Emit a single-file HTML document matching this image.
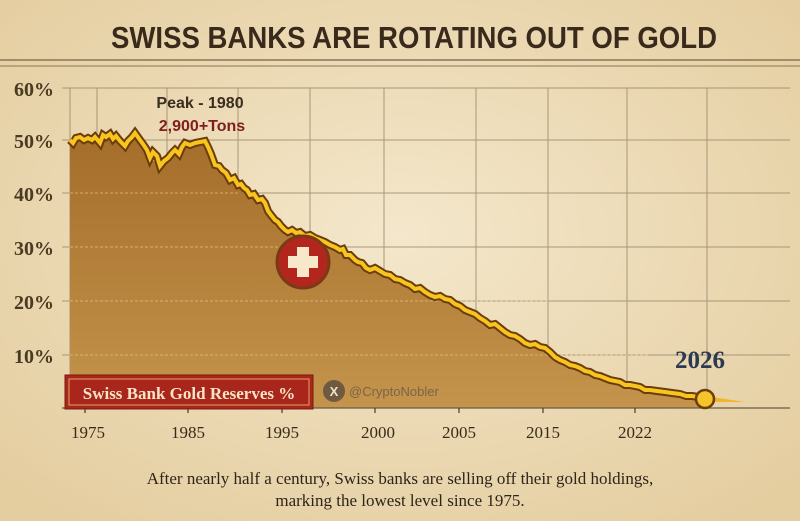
<!DOCTYPE html>
<html><head><meta charset="utf-8"><style>
body{margin:0;width:800px;height:521px;overflow:hidden;background:#efdfbd;}
svg{display:block}
</style></head><body>
<svg width="800" height="521" viewBox="0 0 800 521" xmlns="http://www.w3.org/2000/svg" xmlns:xlink="http://www.w3.org/1999/xlink">
<defs>
<radialGradient id="bg" cx="50%" cy="45%" r="70%"><stop offset="0" stop-color="#f4e7cb"/><stop offset="1" stop-color="#e4cd9f"/></radialGradient>
<linearGradient id="fill" x1="0" y1="0" x2="0" y2="1"><stop offset="0" stop-color="#a46d2a"/><stop offset="1" stop-color="#c4944c"/></linearGradient>
<polyline id="ln" fill="none" points="70,140 73,143 76,138 80,137 84,140 88,138 92,140 95,137 100,143 103,135 106,137 110,134 113,139 116,136 120,141 125,146 128,141 132,137 135,133 140,140 143,144 147,150 150,158 153,152 157,156 160,166 164,161 168,158 172,153 175,150 179,154 182,147 185,143 190,145 195,143 200,142 205,141 208,147 211,154 215,165 219,166 222,170 226,173 230,180 234,178 238,185 241,184 244,188 247,190 250,195 254,194 258,200 262,199 265,203 268,211 271,215 275,220 278,222 281,226 285,230 288,232 292,230 296,233 300,232 305,236 310,235 315,238 320,240 325,242 330,245 335,247 340,250 343,249 346,255 350,255 355,260 358,262 362,263 366,268 370,270 375,268 380,271 385,274 390,275 395,279 400,280 405,283 410,285 415,289 420,288 425,292 430,295 435,297 440,296 445,299 450,300 455,304 460,306 465,310 470,312 475,314 480,318 485,321 490,325 495,324 500,328 505,332 510,335 515,336 520,339 525,343 530,345 535,344 540,347 545,348 550,352 555,357 560,360 565,362 570,365 575,366 580,368 585,371 590,372 595,375 600,376 605,378 610,380 615,381 620,382 625,385 630,385 635,386 640,387 645,390 650,390 657,391 665,392 672,393 680,394 686,396 692,396 698,397 705,398"/>
</defs>
<rect width="800" height="521" fill="url(#bg)"/>
<text x="414" y="48" text-anchor="middle" font-family="Liberation Sans Narrow, Liberation Sans, sans-serif" font-weight="bold" font-size="31" fill="#3a2a1c" textLength="606" lengthAdjust="spacingAndGlyphs">SWISS BANKS ARE ROTATING OUT OF GOLD</text>
<line x1="0" y1="60" x2="800" y2="60" stroke="#8a7556" stroke-width="1.5"/>
<line x1="0" y1="66" x2="800" y2="66" stroke="#8a7556" stroke-width="1"/>
<g stroke="#8b7a60" stroke-width="1" opacity="0.7">
<line x1="70" y1="88" x2="70" y2="408"/><line x1="97" y1="88" x2="97" y2="408"/><line x1="167" y1="88" x2="167" y2="408"/><line x1="238" y1="88" x2="238" y2="408"/><line x1="310" y1="88" x2="310" y2="408"/><line x1="384" y1="88" x2="384" y2="408"/><line x1="476" y1="88" x2="476" y2="408"/><line x1="548" y1="88" x2="548" y2="408"/><line x1="627" y1="88" x2="627" y2="408"/><line x1="707" y1="88" x2="707" y2="408"/>
<line x1="62" y1="88" x2="790" y2="88"/><line x1="62" y1="140" x2="790" y2="140"/><line x1="62" y1="193" x2="790" y2="193"/><line x1="62" y1="247" x2="790" y2="247"/><line x1="62" y1="301" x2="790" y2="301"/><line x1="62" y1="355" x2="790" y2="355"/>
</g>
<g font-family="Liberation Serif, serif" font-size="20" fill="#4a3a22" font-weight="bold">
<text x="14" y="96">60%</text><text x="14" y="148">50%</text><text x="14" y="201">40%</text><text x="14" y="255">30%</text><text x="14" y="309">20%</text><text x="14" y="363">10%</text>
</g>
<path d="M70,140 L80,137 L95,137 L100,141 L105,134 L115,136 L125,146 L135,133 L150,158 L160,166 L168,158 L175,150 L185,143 L205,141 L215,165 L230,180 L250,195 L265,203 L275,220 L285,230 L300,232 L320,240 L340,250 L355,260 L370,270 L390,275 L410,285 L430,295 L450,300 L470,312 L490,325 L510,335 L530,345 L550,352 L570,365 L590,372 L610,380 L630,385 L650,390 L680,394 L705,398 L705,408 L70,408 Z" fill="url(#fill)"/>
<g stroke="#e8d0a0" stroke-width="1" stroke-dasharray="3,2" opacity="0.6"><line x1="70" y1="193" x2="240" y2="193"/><line x1="70" y1="247" x2="330" y2="247"/><line x1="70" y1="301" x2="550" y2="301"/><line x1="70" y1="355" x2="650" y2="355"/></g>
<line x1="62" y1="408" x2="790" y2="408" stroke="#6a5a44" stroke-width="1.2"/>
<use href="#ln" xlink:href="#ln" stroke="#6b3c0c" stroke-width="8" stroke-linejoin="miter"/>
<use href="#ln" xlink:href="#ln" stroke="#f7c51e" stroke-width="4" stroke-linejoin="miter"/>
<path d="M705,396 L745,402 L705,402 Z" fill="#f0b52a"/>
<circle cx="705" cy="399" r="9" fill="#f5c42a" stroke="#6b3c0c" stroke-width="2.5"/>
<text x="700" y="368" text-anchor="middle" font-family="Liberation Serif, serif" font-weight="bold" font-size="25" fill="#2b3a52">2026</text>
<circle cx="303" cy="262" r="26" fill="#b3261e" stroke="#7a3a16" stroke-width="3"/>
<rect x="297" y="247" width="12" height="30" fill="#f6e8c8"/><rect x="288" y="256" width="30" height="12" fill="#f6e8c8"/>
<text x="200" y="108" text-anchor="middle" font-family="Liberation Sans, sans-serif" font-weight="bold" font-size="16" fill="#3a2e20">Peak - 1980</text>
<text x="202" y="131" text-anchor="middle" font-family="Liberation Sans, sans-serif" font-weight="bold" font-size="16" fill="#7e1e1e">2,900+Tons</text>
<rect x="65" y="375" width="248" height="34" fill="#a9261c" stroke="#7a1a12" stroke-width="1"/>
<rect x="69" y="379" width="240" height="26" fill="none" stroke="#e0a060" stroke-width="1"/>
<text x="189" y="399" text-anchor="middle" font-family="Liberation Serif, serif" font-weight="bold" font-size="17" fill="#f6e6c6">Swiss Bank Gold Reserves %</text>
<circle cx="334" cy="391" r="11" fill="#6e5a40"/>
<text x="334" y="396" text-anchor="middle" font-family="Liberation Sans, sans-serif" font-size="13" font-weight="bold" fill="#f2e4c6">X</text>
<text x="349" y="396" font-family="Liberation Sans, sans-serif" font-size="13" fill="#7a6448">@CryptoNobler</text>
<g stroke="#4a3a26" stroke-width="1.2"><line x1="85" y1="408" x2="85" y2="413"/><line x1="188" y1="408" x2="188" y2="413"/><line x1="282" y1="408" x2="282" y2="413"/><line x1="375" y1="408" x2="375" y2="413"/><line x1="459" y1="408" x2="459" y2="413"/><line x1="543" y1="408" x2="543" y2="413"/><line x1="635" y1="408" x2="635" y2="413"/></g>
<g font-family="Liberation Serif, serif" font-size="17" fill="#3a2a1a" text-anchor="middle">
<text x="88" y="438">1975</text><text x="188" y="438">1985</text><text x="282" y="438">1995</text><text x="378" y="438">2000</text><text x="459" y="438">2005</text><text x="543" y="438">2015</text><text x="635" y="438">2022</text>
</g>
<g font-family="Liberation Serif, serif" font-size="17" fill="#2e2418" text-anchor="middle">
<text x="400" y="484">After nearly half a century, Swiss banks are selling off their gold holdings,</text>
<text x="400" y="506">marking the lowest level since 1975.</text>
</g>
</svg>
</body></html>
